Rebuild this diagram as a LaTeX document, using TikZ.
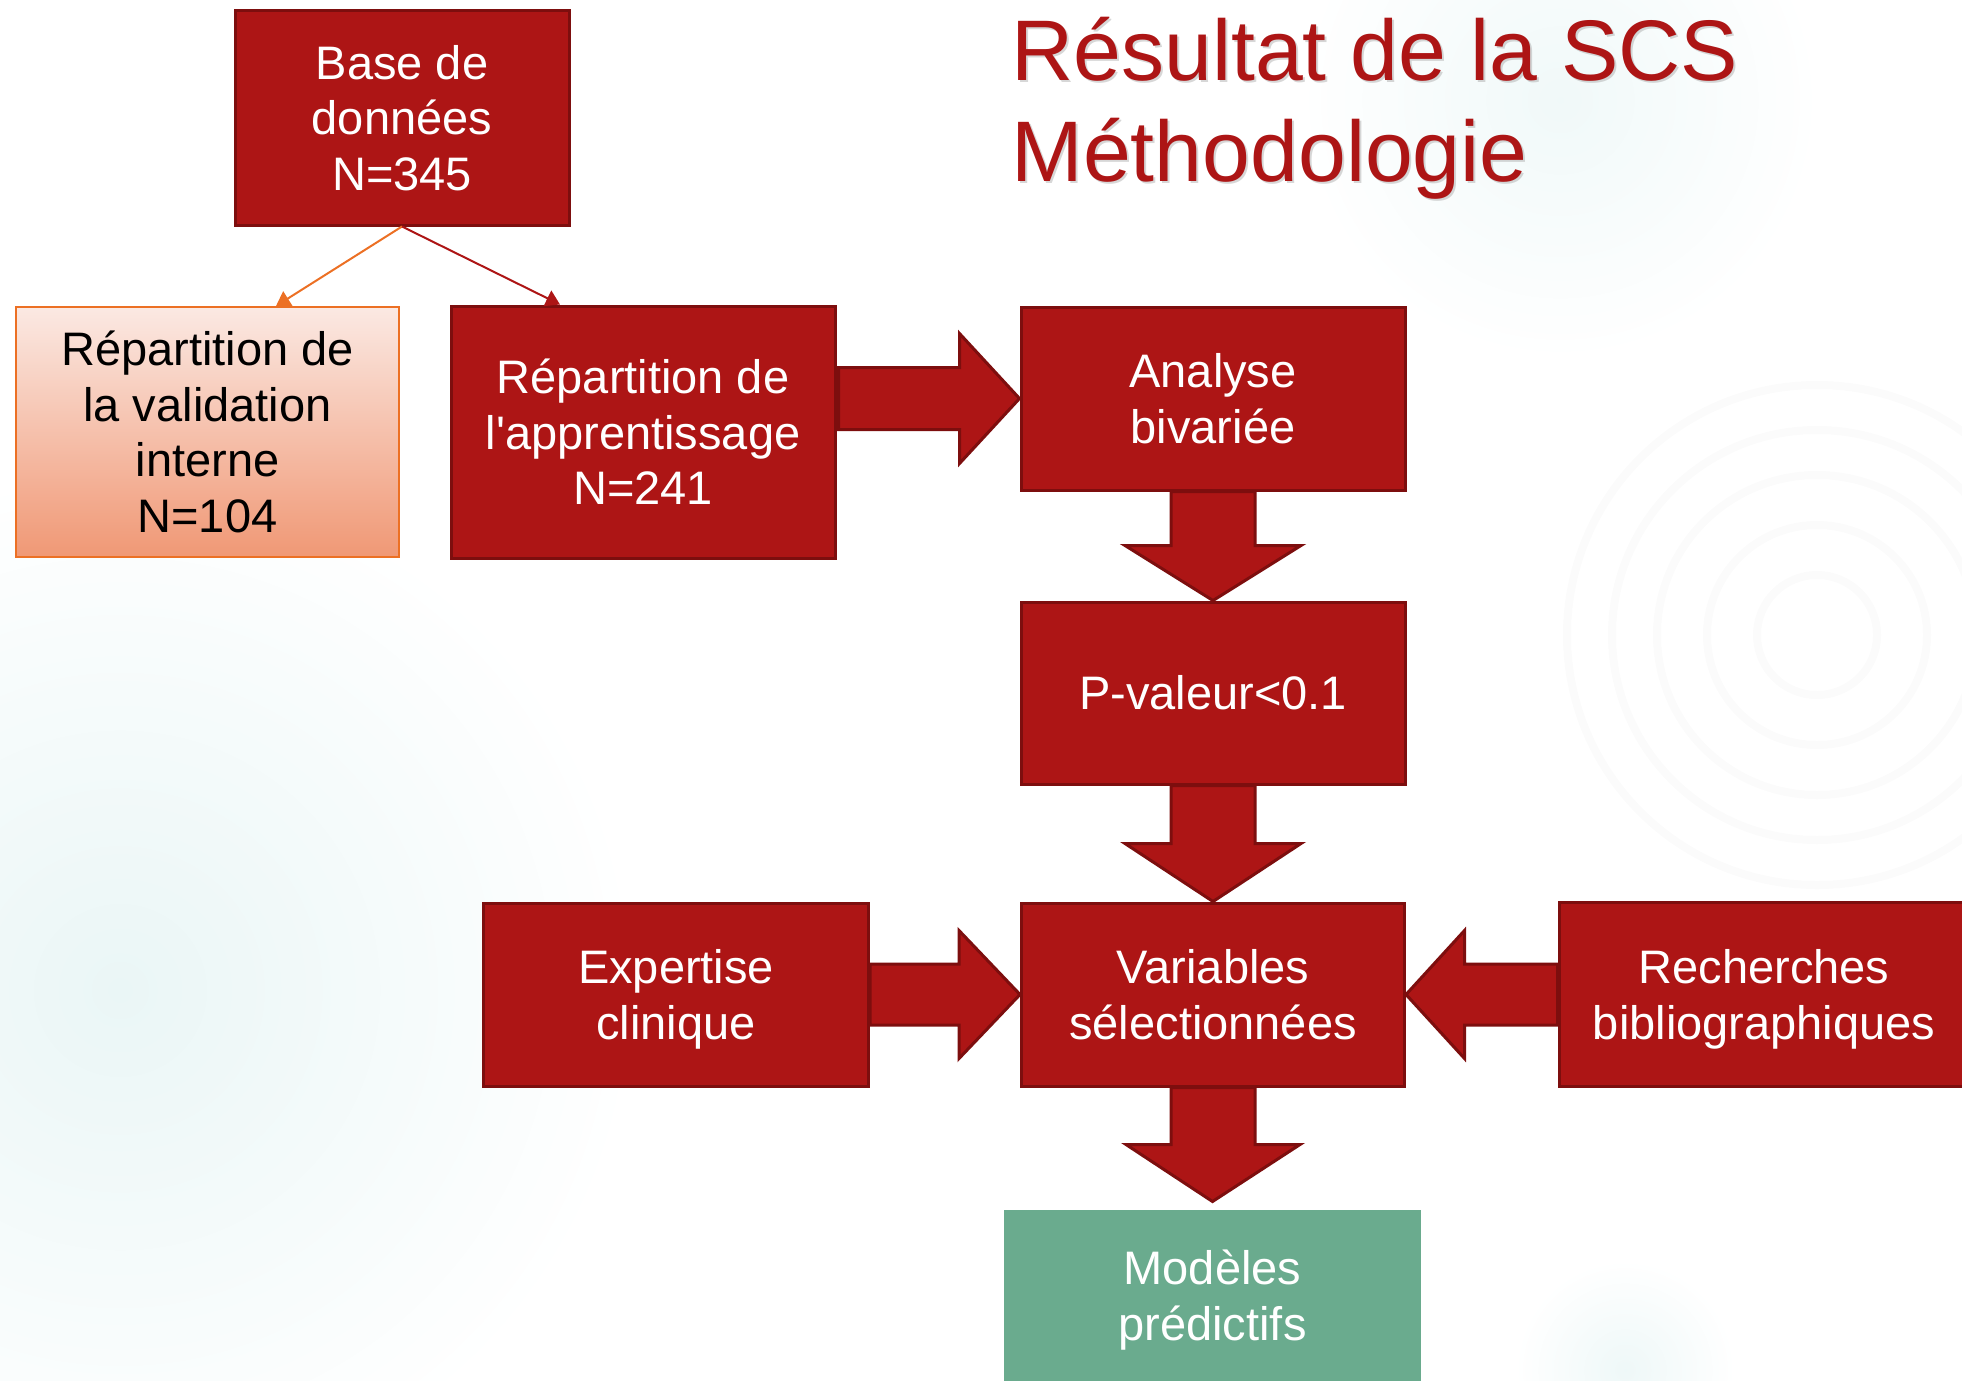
\documentclass[tikz,border=0pt]{standalone}
\usepackage{fontspec}
\setmainfont{Liberation Sans}[Ligatures=TeXOff]
\usetikzlibrary{calc}
\usetikzlibrary{arrows.meta}

\definecolor{boxred}{RGB}{173,21,21}
\definecolor{boxedge}{RGB}{125,14,14}
\definecolor{valedge}{RGB}{236,112,36}
\definecolor{valtop}{RGB}{251,233,227}
\definecolor{valbot}{RGB}{240,152,117}
\definecolor{modgreen}{RGB}{106,171,142}
\definecolor{bgteal}{RGB}{234,246,246}

\begin{document}
\begin{tikzpicture}[x=0.5pt,y=-0.5pt]
\tikzstyle{box}=[draw=boxedge, fill=boxred, line width=1.5pt, rectangle, text=white, align=center, inner sep=0pt, font=\fontsize{23.5}{27.75}\selectfont]
\tikzstyle{blockarrow}=[draw=boxedge, fill=boxred, line width=1.5pt, line join=miter]
\tikzstyle{titre}=[anchor=base west, inner sep=0pt, text=boxred, font=\fontsize{43}{50.5}\selectfont]
\tikzstyle{ombre}=[anchor=base west, inner sep=0pt, text=black!35, opacity=.45, font=\fontsize{43}{50.5}\selectfont]

\useasboundingbox (0,0) rectangle (1962,1380);

% fond
\shade[inner color=bgteal, outer color=white] (120,990) circle (520);
\shade[inner color=bgteal!70, outer color=white] (1560,100) circle (260);
\shade[inner color=bgteal!80, outer color=white] (1625,1370) circle (110);
\foreach \r in {60,110,160,205,250} \draw[black!1.5, line width=4pt] (1817,635) circle (\r);

% titre
\node (ombre1) at (1013,83) [ombre] {Résultat de la SCS};
\node (ombre2) at (1013,184) [ombre] {Méthodologie};
\node (titre1) at (1011,81) [titre] {Résultat de la SCS};
\node (titre2) at ($(titre1.base west)+(0,101)$) [titre] {Méthodologie};

\node (base) at (402,118) [box, minimum width=167pt, minimum height=107pt] {Base de\\données\\N=345};
\node (valid) at (207.5,432) [box, draw=valedge, top color=valtop, bottom color=valbot, text=black, line width=1pt, minimum width=191.5pt, minimum height=125pt] {Répartition de\\la validation\\interne\\N=104};
\node (appr) at (643,432) [box, minimum width=192pt, minimum height=126pt] {Répartition de\\l'apprentissage\\N=241};

\draw[-{Triangle[width=8.5pt,length=7pt]}, valedge, line width=1pt] (base.south) -- ($(valid.north)+(68.5,0)$);
\draw[-{Triangle[width=8.5pt,length=7pt]}, boxred, line width=1pt] (base.south) -- ($(appr.north)+(-83,0)$);

\node (analyse) at (1213,398.5) [box, minimum width=192pt, minimum height=91.5pt] {Analyse\\bivariée};
\node (pval) at (1213,693) [box, minimum width=192pt, minimum height=91pt] {P-valeur<0.1};
\node (variables) at (1213,994.5) [box, minimum width=191.5pt, minimum height=91.5pt] {Variables\\sélectionnées};
\node (expertise) at (676,994.5) [box, text depth=0pt, minimum width=192.5pt, minimum height=91.5pt] {Expertise\\clinique};
\node (recherches) at (1764,994.5) [box, text depth=0pt, minimum width=205pt, minimum height=92pt] {Recherches\\bibliographiques};
\node (modeles) at (1212.5,1300) [box, draw=none, fill=modgreen, minimum width=208.5pt, minimum height=90pt] {Modèles\\prédictifs};

% grosses fleches
\draw[blockarrow] ($(analyse.west)+(-181,-31)$) -- ($(analyse.west)+(-60,-31)$) -- ($(analyse.west)+(-60,-65)$) -- (analyse.west) -- ($(analyse.west)+(-60,65)$) -- ($(analyse.west)+(-60,31)$) -- ($(analyse.west)+(-181,31)$) -- cycle;
\draw[blockarrow] ($(analyse.south)+(-42,0)$) -- ++(0,54) -- ++(-46,0) -- (pval.north) -- ($(analyse.south)+(88,54)$) -- ++(-46,0) -- ++(0,-54) -- cycle;
\draw[blockarrow] ($(pval.south)+(-42,0)$) -- ++(0,58) -- ++(-46,0) -- (variables.north) -- ($(pval.south)+(88,58)$) -- ++(-46,0) -- ++(0,-58) -- cycle;
\draw[blockarrow] ($(variables.south)+(-42,0)$) -- ++(0,57) -- ++(-45,0) -- ($(modeles.north)+(0,-7)$) -- ($(variables.south)+(87,57)$) -- ++(-45,0) -- ++(0,-57) -- cycle;
\draw[blockarrow] ($(expertise.east)+(0,-30.5)$) -- ++(89,0) -- ++(0,-33.5) -- (variables.west) -- ($(expertise.east)+(89,64)$) -- ++(0,-33.5) -- ++(-89,0) -- cycle;
\draw[blockarrow] ($(recherches.west)+(0,-30.5)$) -- ++(-93,0) -- ++(0,-33.5) -- (variables.east) -- ($(recherches.west)+(-93,64)$) -- ++(0,-33.5) -- ++(93,0) -- cycle;

\end{tikzpicture}
\end{document}
